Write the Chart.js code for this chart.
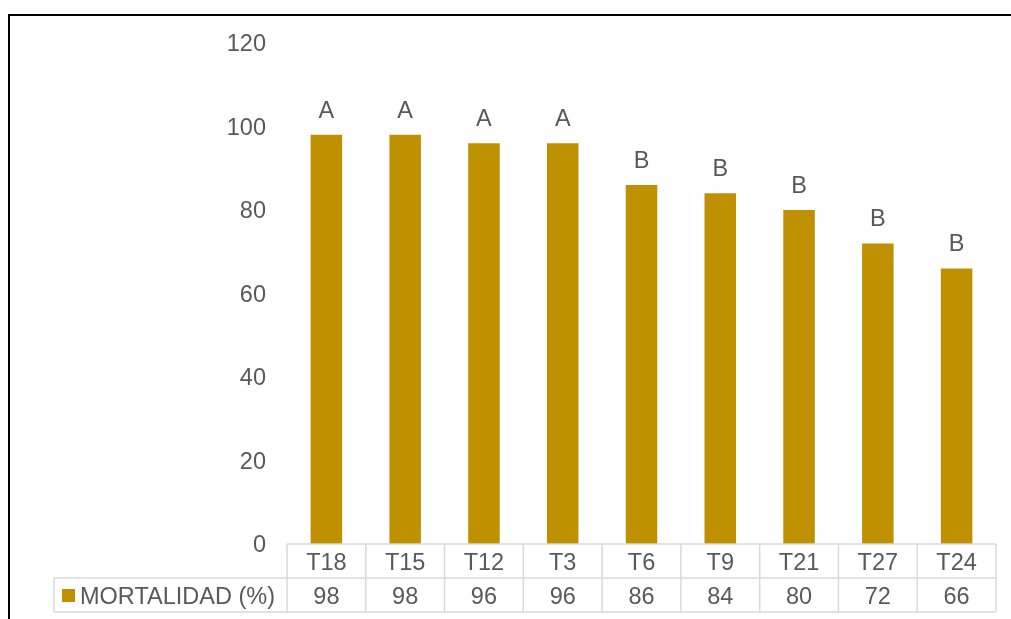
<!DOCTYPE html>
<html>
<head>
<meta charset="utf-8">
<script src="https://cdn.jsdelivr.net/npm/chart.js@4/dist/chart.umd.min.js"></script>
<style>
  html, body { margin: 0; padding: 0; background: #fff; }
  #wrap { width: 1011px; height: 619px; position: relative; }
</style>
</head>
<body>
<div id="wrap"><canvas id="c" width="1011" height="619"></canvas></div>
<script>
// Treatments, mortality and significance groups
const categories = ['T18', 'T15', 'T12', 'T3', 'T6', 'T9', 'T21', 'T27', 'T24'];
const mortalidad = [98, 98, 96, 96, 86, 84, 80, 72, 66];
const grupos = ['A', 'A', 'A', 'A', 'B', 'B', 'B', 'B', 'B'];
const yTicks = [0, 20, 40, 60, 80, 100, 120];
const seriesName = 'MORTALIDAD (%)';

const BAR = '#BF9000';
const TEXT = '#595959';
const GRID = '#d9d9d9';
const FONT = '"Liberation Sans", Arial, sans-serif';
const FSIZE = 23.5;

// Group letters above each bar
const letterPlugin = {
  id: 'letters',
  afterDatasetsDraw(chart) {
    const ctx = chart.ctx;
    const meta = chart.getDatasetMeta(0);
    ctx.save();
    ctx.fillStyle = TEXT;
    ctx.font = FSIZE + 'px ' + FONT;
    ctx.textAlign = 'center';
    ctx.textBaseline = 'alphabetic';
    meta.data.forEach((bar, i) => {
      ctx.fillText(grupos[i], bar.x, bar.y - 17);
    });
    ctx.restore();
  }
};

// Data table under the plot plus the outer frame
const tablePlugin = {
  id: 'dataTable',
  afterDraw(chart) {
    const ctx = chart.ctx;
    const xs = chart.scales.x;
    const n = categories.length;
    const left = xs.left, right = xs.right;
    const w = (right - left) / n;
    const top = chart.chartArea.bottom;
    const mid = top + 34;
    const bot = mid + 34;
    const keyLeft = 54;

    ctx.save();
    ctx.strokeStyle = GRID;
    ctx.lineWidth = 1.5;
    ctx.beginPath();
    ctx.moveTo(left, top); ctx.lineTo(right, top);
    ctx.moveTo(keyLeft, mid); ctx.lineTo(right, mid);
    ctx.moveTo(keyLeft, bot); ctx.lineTo(right, bot);
    ctx.moveTo(keyLeft, mid); ctx.lineTo(keyLeft, bot);
    for (let k = 0; k <= n; k++) {
      const x = left + k * w;
      ctx.moveTo(x, top); ctx.lineTo(x, bot);
    }
    ctx.stroke();

    ctx.fillStyle = TEXT;
    ctx.font = FSIZE + 'px ' + FONT;
    ctx.textAlign = 'center';
    ctx.textBaseline = 'middle';
    categories.forEach((c, i) => {
      const x = xs.getPixelForValue(i);
      ctx.fillText(c, x, (top + mid) / 2 + 2.5);
      ctx.fillText(String(mortalidad[i]), x, (mid + bot) / 2 + 2.5);
    });

    // legend key
    ctx.fillStyle = BAR;
    ctx.fillRect(62, 589, 13, 13);
    ctx.fillStyle = TEXT;
    ctx.textAlign = 'left';
    ctx.fillText(seriesName, 80, (mid + bot) / 2 + 2.5);

    // outer frame
    ctx.strokeStyle = '#000';
    ctx.lineWidth = 2;
    ctx.beginPath();
    ctx.moveTo(9, 619); ctx.lineTo(9, 15); ctx.lineTo(1011, 15);
    ctx.stroke();
    ctx.restore();
  }
};

new Chart(document.getElementById('c'), {
  type: 'bar',
  data: {
    labels: categories,
    datasets: [{
      label: seriesName,
      data: mortalidad,
      backgroundColor: BAR,
      borderWidth: 0,
      barPercentage: 0.4,
      categoryPercentage: 1.0
    }]
  },
  options: {
    responsive: false,
    animation: false,
    devicePixelRatio: 1,
    layout: { padding: { left: 0, right: 15, top: 43, bottom: 75 } },
    plugins: { legend: { display: false }, tooltip: { enabled: false } },
    scales: {
      x: {
        display: false,
        grid: { display: false }
      },
      y: {
        min: 0,
        max: 120,
        afterFit(s) { s.width = 287; },
        afterBuildTicks(s) { s.ticks = yTicks.map(v => ({ value: v })); },
        grid: { display: false, drawTicks: false },
        border: { display: false },
        ticks: {
          padding: 21,
          labelOffset: 2,
          color: TEXT,
          font: { family: FONT, size: FSIZE }
        }
      }
    }
  },
  plugins: [letterPlugin, tablePlugin]
});
</script>
</body>
</html>
